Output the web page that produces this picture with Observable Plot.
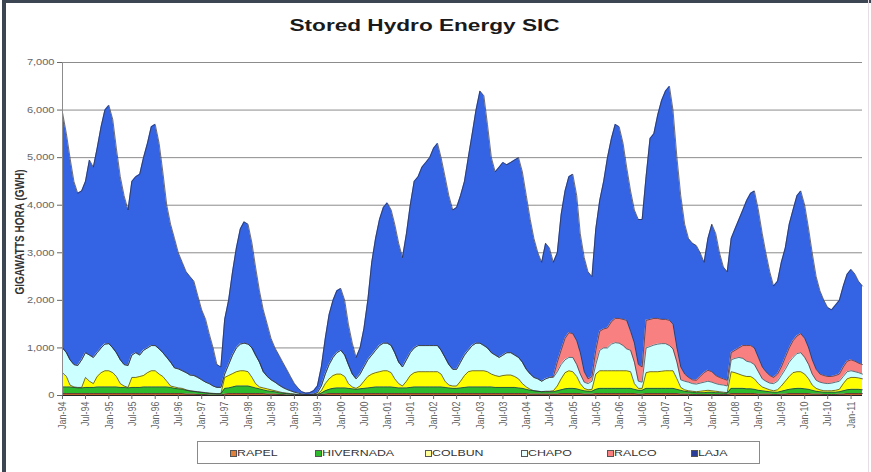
<!DOCTYPE html>
<html>
<head>
<meta charset="utf-8">
<script src="https://cdn.jsdelivr.net/npm/d3@7"></script>
<script src="https://cdn.jsdelivr.net/npm/@observablehq/plot@0.6"></script>
<style>
  html, body { margin: 0; padding: 0; background: #fff; }
  #root { position: relative; width: 871px; height: 472px; overflow: hidden; background: #fff;
          font-family: "Liberation Sans", Arial, sans-serif; }
  .edge { position: absolute; background: #3b4652; }
  #title { position: absolute; left: 0; top: 16px; width: 850px; text-align: center;
           font-size: 17px; line-height: 20px; font-weight: bold; color: #1a1a1a; }
  #title span { display: inline-block; transform: scaleX(1.33); }
  #ylab { position: absolute; left: -80px; top: 226px; width: 200px; height: 12px; text-align: center;
          font-size: 10px; line-height: 12px; font-weight: bold; color: #333;
          transform: rotate(-90deg) scaleY(1.3); transform-origin: 50% 50%; }
  #chart { position: absolute; left: 0; top: 45px; }
  #legend { position: absolute; left: 197px; top: 441px; width: 563px; height: 23px;
            box-sizing: border-box; border: 1px solid #8a8a8a; background: #fff; }
  .item { position: absolute; top: 6px; height: 10px; white-space: nowrap; }
  .sw { position: absolute; left: 0; top: 2px; width: 5px; height: 5px; border: 1px solid #555; }
  .lt { position: absolute; left: 7px; top: 0; font-size: 9.5px; line-height: 10px; color: #333;
        transform: scaleX(1.3); transform-origin: 0 50%; }
</style>
</head>
<body>
<div id="root">
  <div class="edge" style="left:2px;top:0;width:4px;height:472px"></div>
  <div class="edge" style="left:2px;top:0;width:869px;height:3px"></div>
  <div class="edge" style="left:868px;top:0;width:1px;height:472px;background:#e6dde6"></div>
  <div id="title"><span>Stored Hydro Energy SIC</span></div>
  <div id="ylab">GIGAWATTS HORA (GWH)</div>
  <div id="chart"></div>
  <div id="legend"></div>
</div>
<script>
// ---- Data (GWh, monthly from Jan-94 to Apr-11) ----
const seriesNames = ["RAPEL", "HIVERNADA", "COLBUN", "CHAPO", "RALCO", "LAJA"];
const seriesColors = ["#c8642a", "#2dbb2d", "#ffff00", "#ccffff", "#f88080", "#3464e4"];
const legendColors = ["#e0803a", "#2dbb2d", "#ffff99", "#e8ffff", "#f88080", "#2a3e9a"];

const rapel = [
  40,40,40,40,40,40,40,40,40,40,40,40,
  40,40,40,40,40,40,40,40,40,40,40,40,
  40,40,40,40,40,40,40,40,30,30,30,20,
  20,20,10,10,10,10,30,40,40,40,40,40,
  40,40,40,40,40,30,30,30,20,20,10,10,
  10,5,5,4,4,5,10,20,30,40,40,40,
  40,40,40,40,40,40,40,40,40,40,40,40,
  40,40,40,40,40,40,40,40,40,40,40,40,
  40,40,40,40,40,40,40,40,40,40,40,40,
  40,40,40,40,40,40,40,40,40,40,40,40,
  40,30,30,30,30,30,30,30,30,40,40,40,
  40,40,40,30,30,30,40,40,40,40,40,40,
  40,40,40,40,40,30,30,40,40,40,40,40,
  40,40,40,40,30,30,30,20,20,20,20,20,
  20,20,20,20,20,40,40,40,40,40,40,40,
  30,30,30,30,20,20,30,30,40,40,40,40,
  40,40,30,30,30,20,20,20,20,30,30,40,
  40,40,40,40
];
const hivernada = [
  140,140,140,130,120,120,130,130,130,140,140,140,
  140,140,140,130,130,120,130,130,130,140,140,140,
  140,140,140,140,130,110,100,90,80,65,55,55,
  45,35,35,30,25,25,120,120,140,160,160,160,
  160,140,120,100,80,70,60,50,40,30,30,20,
  15,10,5,4,4,5,10,30,70,90,110,120,
  120,120,110,100,90,100,110,120,130,140,140,140,
  140,140,130,120,120,120,130,140,140,140,140,140,
  140,140,140,130,120,110,110,120,130,140,140,140,
  140,140,140,140,130,130,130,130,130,130,120,110,
  90,80,70,60,50,50,50,50,70,80,100,110,
  110,100,80,70,60,60,90,110,110,110,110,110,
  110,110,110,110,90,80,80,110,110,110,110,110,
  110,110,110,90,80,60,50,50,40,40,40,50,
  50,40,40,30,30,110,110,110,110,100,100,90,
  80,70,60,50,50,50,60,80,90,100,110,110,
  100,90,80,60,50,50,50,50,50,50,70,80,
  90,90,90,80
];
const colbun = [
  300,220,40,10,10,10,210,130,80,220,300,340,
  340,300,220,80,30,10,210,210,230,240,300,340,
  340,270,220,120,30,30,20,20,10,5,5,5,
  5,5,5,5,5,5,230,260,280,300,320,320,
  300,200,90,40,40,40,30,20,20,10,10,10,
  5,5,5,2,2,5,10,50,150,220,270,290,
  290,240,100,40,20,60,150,240,280,300,320,340,
  340,300,180,90,40,140,250,300,320,320,320,320,
  320,320,270,130,60,50,50,140,250,320,340,340,
  340,340,320,270,250,230,250,260,260,230,190,100,
  50,20,0,0,0,10,10,20,100,230,340,370,
  350,260,130,50,30,40,320,370,370,370,370,370,
  370,370,370,350,120,40,40,330,350,350,350,360,
  370,370,370,220,60,30,20,20,20,30,40,40,
  30,30,20,20,10,350,330,300,270,260,260,220,
  140,80,60,40,30,50,110,190,270,340,350,350,
  310,220,110,60,40,30,30,30,40,50,150,230,
  250,250,240,230
];
const chapo = [
  520,500,530,470,460,580,520,550,550,500,520,560,
  570,520,500,500,450,460,470,520,450,530,520,530,
  530,530,500,500,500,400,400,370,360,330,330,300,
  260,220,200,155,130,130,70,230,390,500,560,580,
  580,620,600,520,340,260,210,180,140,110,80,60,
  40,30,15,10,10,15,30,100,200,300,380,450,
  500,450,400,270,200,250,300,350,400,470,550,580,
  580,570,550,450,400,450,480,520,550,550,550,550,
  550,550,500,500,430,350,350,400,430,450,530,580,
  580,530,500,450,430,400,430,470,470,450,450,450,
  370,320,280,260,220,260,290,280,300,300,270,280,
  300,250,200,130,130,170,200,430,480,480,560,590,
  580,530,460,450,450,150,130,520,530,560,580,580,
  570,530,460,350,160,180,180,160,160,170,180,190,
  180,160,150,150,140,250,300,350,360,320,300,300,
  250,170,150,140,150,180,220,250,300,320,380,400,
  350,300,230,170,160,160,150,160,170,170,150,150,
  140,120,110,100
];
const ralco = [
  0,0,0,0,0,0,0,0,0,0,0,0,
  0,0,0,0,0,0,0,0,0,0,0,0,
  0,0,0,0,0,0,0,0,0,0,0,0,
  0,0,0,0,0,0,0,0,0,0,0,0,
  0,0,0,0,0,0,0,0,0,0,0,0,
  0,0,0,0,0,0,0,0,0,0,0,0,
  0,0,0,0,0,0,0,0,0,0,0,0,
  0,0,0,0,0,0,0,0,0,0,0,0,
  0,0,0,0,0,0,0,0,0,0,0,0,
  0,0,0,0,0,0,0,0,0,0,0,0,
  0,0,0,0,0,0,0,20,200,300,450,520,
  500,500,450,220,100,100,300,400,400,420,470,510,
  520,550,600,400,400,350,320,580,570,560,540,510,
  510,530,520,300,270,150,100,80,80,140,200,230,
  220,170,150,130,120,150,170,200,270,330,350,350,
  300,250,200,160,130,150,180,250,300,350,370,400,
  400,350,300,230,170,160,150,140,140,150,200,220,
  230,220,200,200
];
const laja = [
  4950,4600,4250,3850,3620,3550,3600,4100,4000,4300,4650,4920,
  5010,4800,4300,3850,3550,3270,3650,3700,3800,4050,4300,4600,
  4650,4320,3800,3200,2900,2720,2440,2280,2120,2070,1980,1720,
  1470,1320,1050,800,480,430,1150,1350,1750,2100,2420,2550,
  2520,2200,1850,1500,1300,1100,870,720,630,530,420,300,
  180,100,50,30,40,70,140,400,750,1050,1200,1300,
  1300,1150,850,650,450,550,800,1250,1950,2350,2650,2850,
  2950,2850,2700,2500,2300,2650,3100,3500,3550,3750,3850,3950,
  4150,4250,4050,3800,3550,3350,3400,3500,3650,4050,4450,4900,
  5300,5250,4700,4100,3850,4000,4050,3950,4000,4100,4200,4000,
  3650,3250,2920,2650,2500,2850,2720,2400,2300,2850,3100,3280,
  3350,3050,2500,2400,2250,2100,2550,2750,3100,3580,3850,4080,
  4030,3700,3220,2950,2800,3050,3100,3020,3800,3880,4280,4600,
  4800,4920,4500,4000,3600,3150,2920,2870,2830,2600,2320,2770,
  3100,2980,2620,2350,2280,2400,2550,2700,2850,3050,3200,3300,
  3100,2800,2500,2180,1920,1950,2200,2300,2600,2750,2950,3000,
  2800,2500,2250,1950,1750,1580,1450,1400,1480,1550,1700,1830,
  1900,1830,1720,1650
];
const seriesValues = [rapel, hivernada, colbun, chapo, ralco, laja];

const yTicks = [0, 1000, 2000, 3000, 4000, 5000, 6000, 7000];
const months = d3.utcMonth.range(new Date(Date.UTC(1994, 0, 1)), new Date(Date.UTC(2011, 4, 1)));
const xTicks = d3.utcMonth.every(6).range(new Date(Date.UTC(1994, 0, 1)), new Date(Date.UTC(2011, 0, 2)));

const data = months.flatMap((d, i) => seriesNames.map((s, k) => ({date: d, series: s, value: seriesValues[k][i]})));

const chart = Plot.plot({
  width: 871,
  height: 390,
  marginLeft: 62,
  marginRight: 9,
  marginTop: 17,
  marginBottom: 40,
  style: {fontFamily: "'Liberation Sans', Arial, sans-serif", background: "transparent", overflow: "visible"},
  x: {type: "utc", domain: [months[0], months[months.length - 1]]},
  y: {domain: [0, 7000]},
  color: {domain: seriesNames, range: seriesColors},
  marks: [
    Plot.gridY(yTicks.slice(1), {stroke: "#8c8c8c", strokeOpacity: 1, strokeWidth: 1}),
    Plot.areaY(data, {x: "date", y: "value", z: "series", fill: "series", order: seriesNames}),
    Plot.lineY(data, Plot.stackY2({x: "date", y: "value", z: "series", order: seriesNames,
      stroke: "#2b2b3a", strokeWidth: 0.8, strokeOpacity: 0.85})),
    Plot.ruleX([months[0]], {stroke: "#8c8c8c"}),
    Plot.ruleY([0], {stroke: "#222", strokeWidth: 1.2}),
    Plot.axisY({ticks: yTicks, tickFormat: d3.format(","), tickSize: 5, tickPadding: 3,
      fontSize: 8.5, label: null, color: "#666"}),
    Plot.axisX({ticks: xTicks, tickFormat: d3.utcFormat("%b-%y"), tickRotate: -90,
      tickSize: 4, tickPadding: 2, fontSize: 9, label: null, color: "#666"})
  ]
});

// horizontal stretch of tick labels (the original picture is stretched horizontally)
function stretch(sel) {
  chart.querySelectorAll(sel).forEach(el => {
    const t = el.getAttribute("transform");
    if (t && /^translate\(/.test(t)) {
      el.setAttribute("transform", t.replace(/^(translate\([^)]*\))/, "$1 scale(1.3,1)"));
    } else {
      const x = el.getAttribute("x") || 0, y = el.getAttribute("y") || 0;
      el.removeAttribute("x"); el.removeAttribute("y");
      el.setAttribute("transform", `translate(${x},${y}) scale(1.3,1)` + (t ? " " + t : ""));
    }
  });
}
stretch('g[aria-label="y-axis tick label"] text');
stretch('g[aria-label="x-axis tick label"] text');

document.getElementById("chart").appendChild(chart);

// legend
const legendX = [32, 117, 227, 323, 409, 493];
const legend = document.getElementById("legend");
seriesNames.forEach((s, k) => {
  const item = document.createElement("div");
  item.className = "item";
  item.style.left = legendX[k] + "px";
  const sw = document.createElement("div");
  sw.className = "sw";
  sw.style.background = legendColors[k];
  const lt = document.createElement("div");
  lt.className = "lt";
  lt.textContent = s;
  item.appendChild(sw);
  item.appendChild(lt);
  legend.appendChild(item);
});
</script>
</body>
</html>
